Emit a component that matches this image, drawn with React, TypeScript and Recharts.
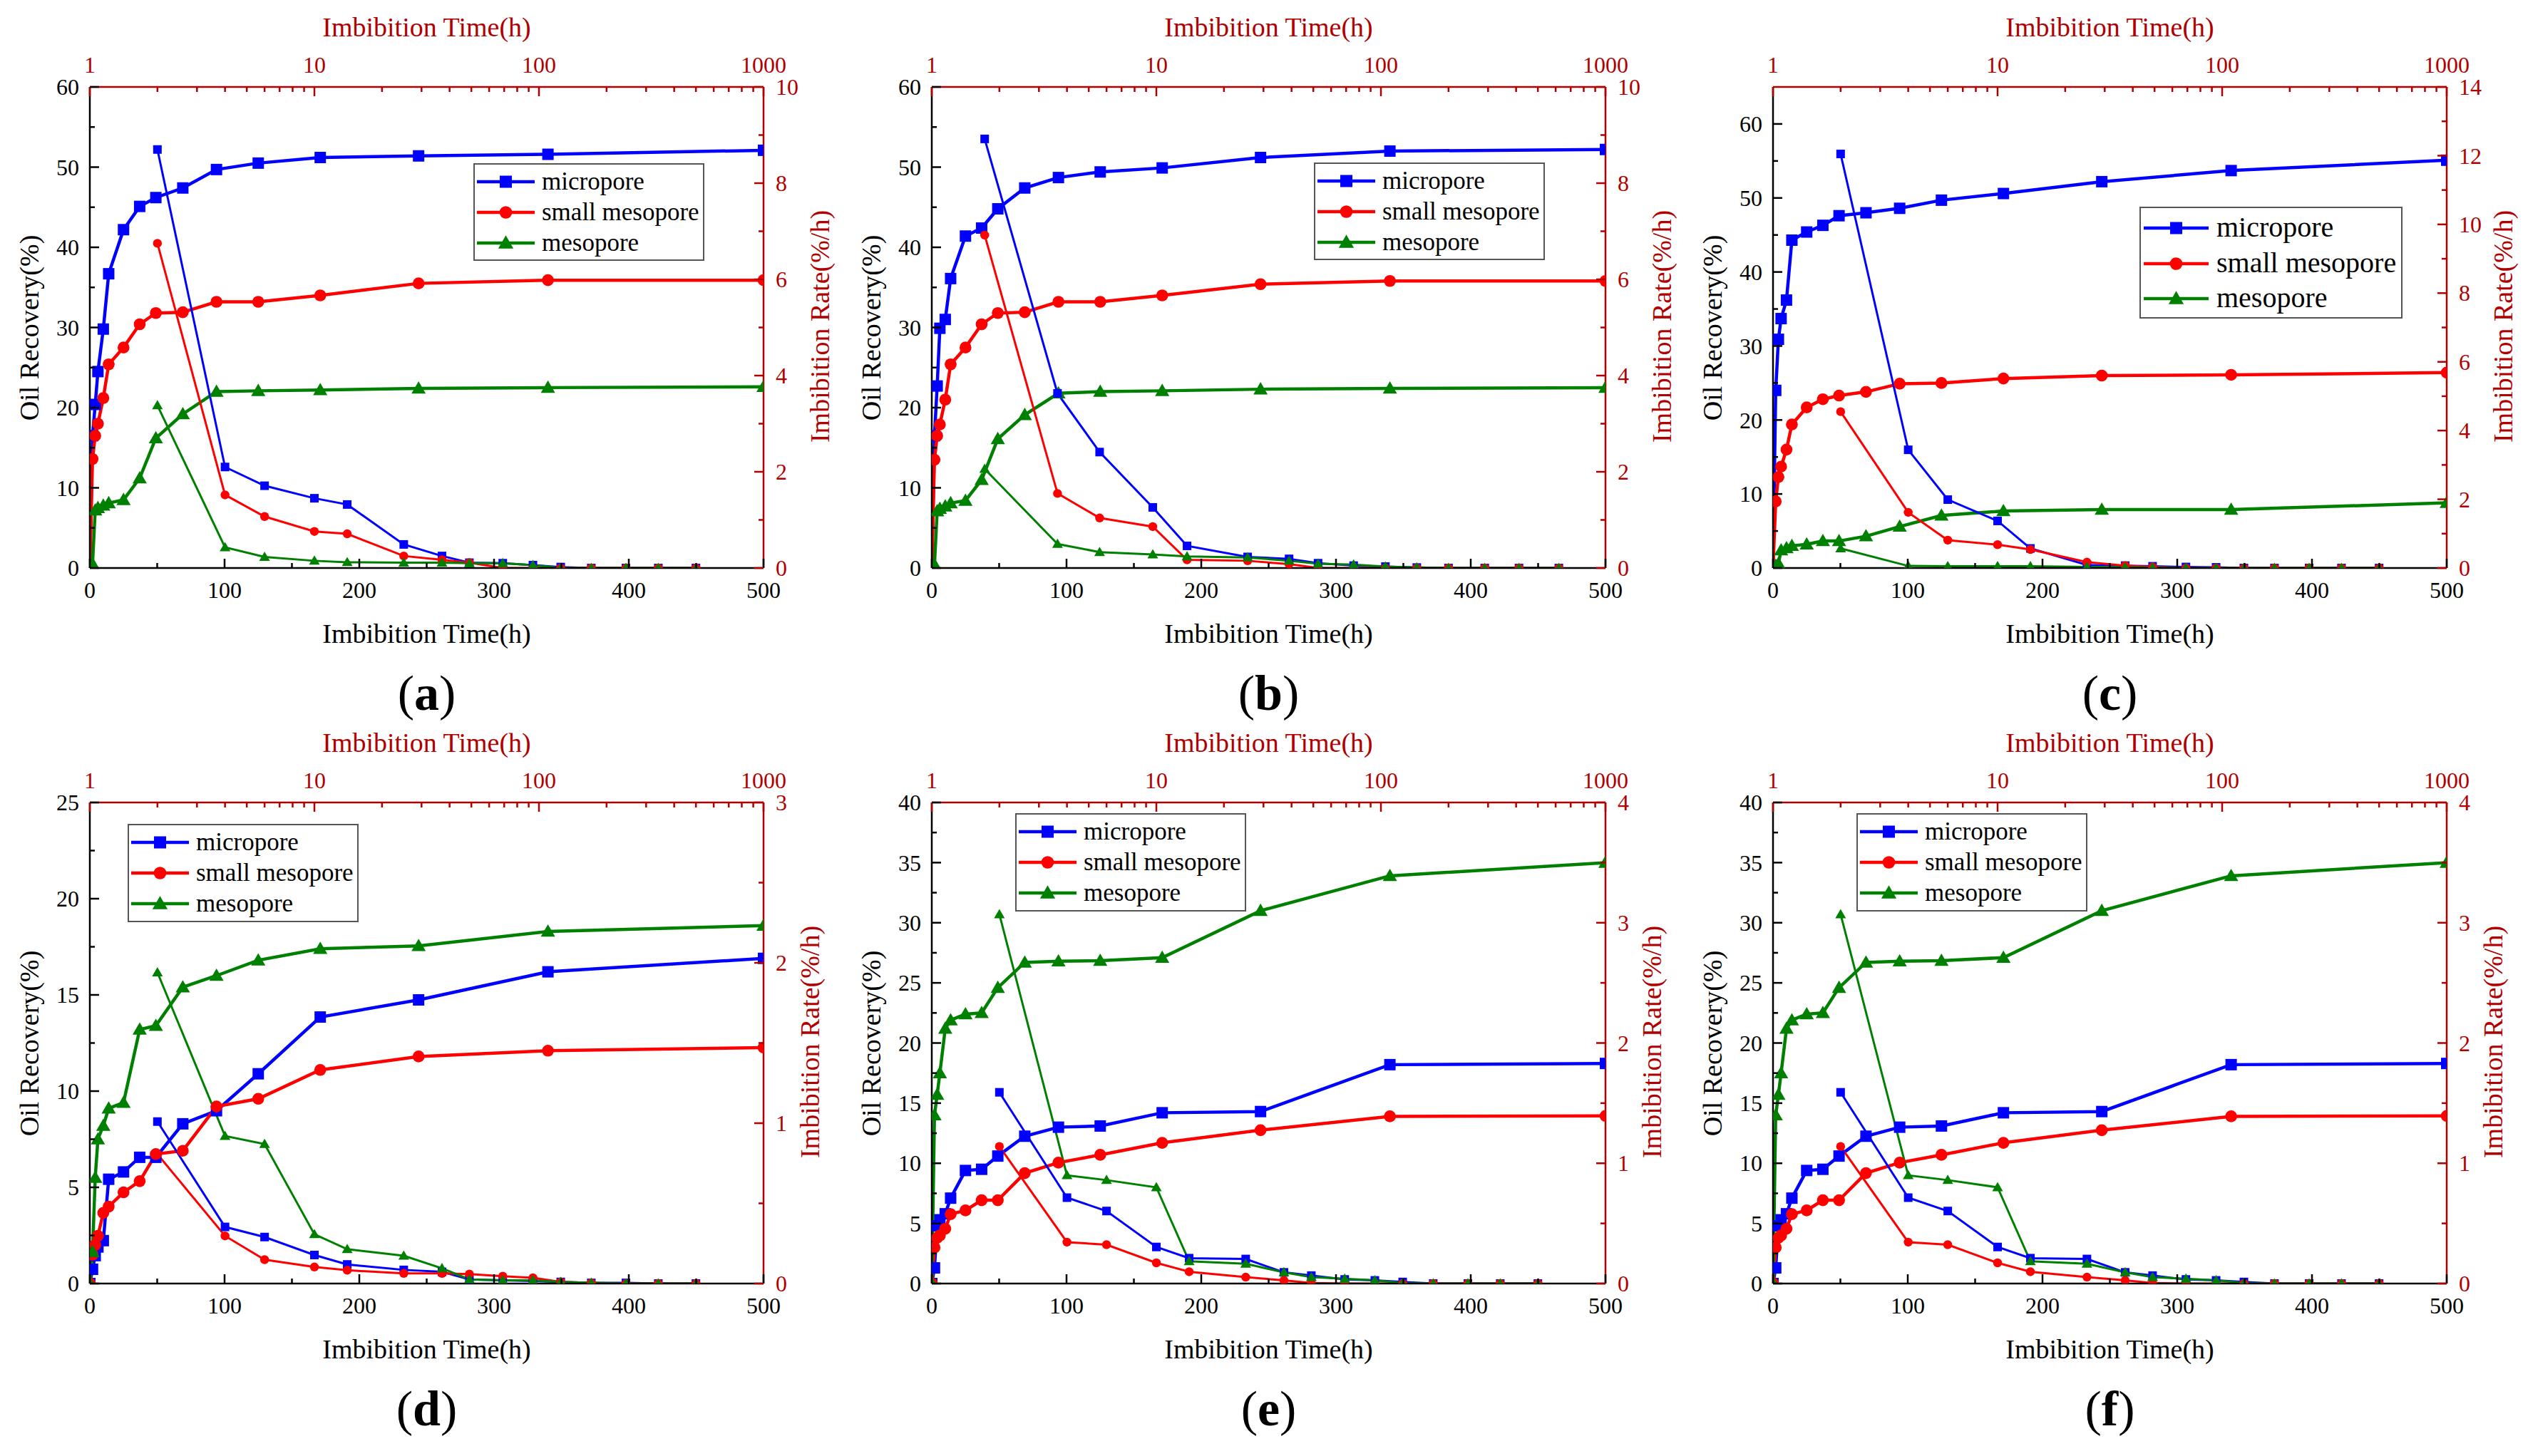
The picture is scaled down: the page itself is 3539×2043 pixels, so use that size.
import React from 'react';
import { LineChart, Line, XAxis, YAxis } from 'recharts';

// ---------------- data ----------------
// sampling times (h) of the oil-recovery curves (bottom, linear axis)
const REC_T = [0, 2, 4, 6, 10, 14, 25, 37, 49, 69, 94, 125, 171, 244, 340, 500];
// sampling times (h) of the imbibition-rate curves (top, log axis)
const RATE_T = [2, 4, 6, 10, 14, 25, 37, 49, 69, 94, 125, 171, 244, 340, 500];
const RATE_T_B = [1.72, 3.63, 5.59, 9.64, 13.7, 25.5, 39, 52.5, 75.6, 104.7, 144.5, 200, 290, 412, 620];

const SERIES = ['micropore', 'small mesopore', 'mesopore'];
const PANEL_LABELS = ['a', 'b', 'c', 'd', 'e', 'f'];

// (a)
const recMicroA = [0, 16.5, 20.4, 24.5, 29.8, 36.7, 42.2, 45.1, 46.2, 47.4, 49.7, 50.5, 51.2, 51.4, 51.6, 52.1];
const recSmallA = [0, 13.6, 16.5, 18.0, 21.2, 25.4, 27.5, 30.4, 31.8, 31.9, 33.2, 33.2, 34.0, 35.5, 35.9, 35.9];
const recMesoA = [0, 0.5, 7.2, 7.5, 7.8, 8.1, 8.5, 11.2, 16.2, 19.2, 22.0, 22.1, 22.2, 22.4, 22.5, 22.6];
const rateMicroA = [8.7, 2.1, 1.71, 1.45, 1.32, 0.49, 0.25, 0.11, 0.1, 0.06, 0.02, 0, 0, 0, 0];
const rateSmallA = [6.75, 1.52, 1.07, 0.76, 0.71, 0.25, 0.17, 0.11, 0, 0, 0, 0, 0, 0, 0];
const rateMesoA = [3.38, 0.43, 0.23, 0.15, 0.12, 0.11, 0.11, 0.1, 0.1, 0.06, 0, 0, 0, 0, 0];

// (b)
const recMicroB = [0, 16.5, 22.7, 29.9, 31.0, 36.1, 41.4, 42.4, 44.8, 47.4, 48.7, 49.4, 49.9, 51.2, 52.0, 52.2];
const recSmallB = [0, 13.5, 16.5, 17.9, 21.0, 25.4, 27.5, 30.4, 31.8, 31.9, 33.2, 33.2, 34.0, 35.4, 35.8, 35.8];
const recMesoB = [0, 0.4, 7.1, 7.4, 7.7, 8.1, 8.4, 11.0, 16.1, 19.1, 21.8, 22.0, 22.1, 22.3, 22.4, 22.5];
const rateMicroB = [8.92, 3.63, 2.41, 1.26, 0.46, 0.23, 0.19, 0.1, 0.05, 0.03, 0.01, 0, 0, 0, 0];
const rateSmallB = [6.92, 1.55, 1.04, 0.86, 0.17, 0.15, 0.08, 0, 0, 0, 0, 0, 0, 0, 0];
const rateMesoB = [2.06, 0.5, 0.33, 0.28, 0.24, 0.22, 0.15, 0.09, 0.07, 0.03, 0.01, 0, 0, 0, 0];

// (c)
const recMicroC = [0, 24.0, 30.9, 33.7, 36.2, 44.3, 45.4, 46.3, 47.6, 48.0, 48.6, 49.7, 50.6, 52.2, 53.7, 55.1];
const recSmallC = [0, 9.0, 12.3, 13.7, 16.0, 19.4, 21.7, 22.8, 23.3, 23.8, 24.9, 25.0, 25.6, 26.0, 26.1, 26.4];
const recMesoC = [0, 0.3, 0.6, 2.4, 2.7, 3.0, 3.2, 3.65, 3.65, 4.3, 5.6, 7.1, 7.7, 7.9, 7.9, 8.8];
const rateMicroC = [12.05, 3.44, 1.99, 1.37, 0.57, 0.09, 0.07, 0.05, 0.03, 0.02, 0, 0, 0, 0, 0];
const rateSmallC = [4.55, 1.62, 0.81, 0.68, 0.54, 0.17, 0.07, 0.03, 0, 0, 0, 0, 0, 0, 0];
const rateMesoC = [0.57, 0.06, 0.05, 0.05, 0.05, 0.03, 0.02, 0.01, 0, 0, 0, 0, 0, 0, 0];

// (d)
const recMicroD = [0, 0.74, 1.45, 1.9, 2.23, 5.42, 5.8, 6.56, 6.56, 8.3, 8.98, 10.9, 13.85, 14.74, 16.2, 16.9];
const recSmallD = [0, 1.5, 2.0, 2.48, 3.67, 4.0, 4.74, 5.32, 6.73, 6.9, 9.2, 9.6, 11.1, 11.8, 12.1, 12.26];
const recMesoD = [0, 1.65, 5.5, 7.5, 8.2, 9.1, 9.4, 13.2, 13.4, 15.4, 16.0, 16.8, 17.4, 17.55, 18.3, 18.6];
const rateMicroD = [1.01, 0.353, 0.29, 0.178, 0.119, 0.085, 0.073, 0.026, 0.02, 0.016, 0.01, 0.004, 0.004, 0, 0];
const rateSmallD = [0.807, 0.297, 0.149, 0.103, 0.083, 0.063, 0.063, 0.059, 0.046, 0.036, 0.01, 0.004, 0, 0, 0];
const rateMesoD = [1.94, 0.92, 0.87, 0.307, 0.214, 0.173, 0.095, 0.026, 0.02, 0.02, 0.01, 0.004, 0, 0, 0];

// (e) and (f)
const recMicroE = [0, 1.3, 4.8, 5.3, 5.8, 7.1, 9.4, 9.5, 10.6, 12.25, 13.0, 13.1, 14.2, 14.3, 18.2, 18.3];
const recSmallE = [0, 3.0, 3.8, 4.0, 4.55, 5.77, 6.08, 6.93, 6.93, 9.18, 10.05, 10.7, 11.7, 12.75, 13.9, 13.94];
const recMesoE = [0, 14.0, 15.7, 17.5, 21.2, 21.9, 22.4, 22.5, 24.6, 26.7, 26.8, 26.85, 27.1, 31.0, 33.9, 35.0];
const rateMicroE = [1.59, 0.714, 0.603, 0.304, 0.211, 0.204, 0.093, 0.066, 0.034, 0.026, 0.013, 0, 0, 0, 0];
const rateSmallE = [1.14, 0.344, 0.323, 0.172, 0.098, 0.053, 0.026, 0.005, 0, 0, 0, 0, 0, 0, 0];
const rateMesoE = [3.07, 0.9, 0.86, 0.8, 0.185, 0.164, 0.093, 0.053, 0.04, 0.026, 0.005, 0, 0, 0, 0];

// tick values
const BOTTOM_TICKS = [0, 50, 100, 150, 200, 250, 300, 350, 400, 450, 500];
const TOP_TICKS = [1, 2, 3, 4, 5, 6, 7, 8, 9, 10, 20, 30, 40, 50, 60, 70, 80, 90, 100, 200, 300, 400, 500, 600, 700, 800, 900, 1000];
const LEFT_TICKS_60 = [0, 5, 10, 15, 20, 25, 30, 35, 40, 45, 50, 55, 60];
const LEFT_TICKS_25 = [0, 2.5, 5, 7.5, 10, 12.5, 15, 17.5, 20, 22.5, 25];
const LEFT_TICKS_40 = [0, 2.5, 5, 7.5, 10, 12.5, 15, 17.5, 20, 22.5, 25, 27.5, 30, 32.5, 35, 37.5, 40];
const RIGHT_TICKS_10 = [0, 1, 2, 3, 4, 5, 6, 7, 8, 9, 10];
const RIGHT_TICKS_14 = [0, 1, 2, 3, 4, 5, 6, 7, 8, 9, 10, 11, 12, 13, 14];
const RIGHT_TICKS_3 = [0, 0.5, 1, 1.5, 2, 2.5, 3];
const RIGHT_TICKS_4 = [0, 0.5, 1, 1.5, 2, 2.5, 3, 3.5, 4];

// ---------------- styling ----------------
const FONT = '"Liberation Serif", "Times New Roman", Times, serif';
const AX_RED = '#B00000';
const BLUE = '#0000FF';
const RED = '#FF0000';
const GREEN = '#008000';
const COLORS = [BLUE, RED, GREEN];
const SHAPES = ['square', 'circle', 'triangle'];

const W = 1180;
const H = 1004;
const PLOT_L = 126;
const PLOT_T = 122;
const PLOT_W = 945;
const PLOT_H = 675;

const pts = (ts: number[], vs: number[]) => ts.map((t, i) => ({ t, v: vs[i] }));

function drawMarker(shape: string, cx: number, cy: number, size: number, color: string, key?: any) {
  if (shape === 'square') {
    return <rect key={key} x={cx - size / 2} y={cy - size / 2} width={size} height={size} fill={color} />;
  }
  if (shape === 'circle') {
    return <circle key={key} cx={cx} cy={cy} r={size * 0.52} fill={color} />;
  }
  const w = size * 1.25;
  const h = size * 1.08;
  return (
    <path
      key={key}
      d={`M${cx},${cy - h * 0.58} L${cx + w / 2},${cy + h * 0.42} L${cx - w / 2},${cy + h * 0.42} Z`}
      fill={color}
    />
  );
}

const makeDot = (shape: string, size: number, color: string) => (props: any) => {
  const { cx, cy, index } = props;
  if (cx == null || cy == null || isNaN(cx) || isNaN(cy)) return <g key={`n${index}`} />;
  return drawMarker(shape, cx, cy, size, color, `d${index}`);
};

function makeTick(side: string, margin: number, color: string, isMajor: (v: number) => boolean, fontSize: number) {
  return function Tick(props: any) {
    const { x, y, payload } = props;
    const v = payload.value;
    const major = isMajor(v);
    const len = major ? 13 : 7;
    let x1 = x, y1 = y, x2 = x, y2 = y;
    let anchor = 'middle';
    if (side === 'bottom') {
      const a = y - margin;
      y1 = a; y2 = a - len;
    } else if (side === 'top') {
      const a = y + margin;
      y1 = a; y2 = a + len;
    } else if (side === 'left') {
      const a = x + margin;
      x1 = a; x2 = a + len; anchor = 'end';
    } else {
      const a = x - margin;
      x1 = a; x2 = a - len; anchor = 'start';
    }
    return (
      <g>
        <line x1={x1} y1={y1} x2={x2} y2={y2} stroke={color} strokeWidth={2.5} />
        {major ? (
          <text x={x} y={y} dy="0.35em" textAnchor={anchor} fill={color} fontSize={fontSize} fontFamily={FONT}>
            {String(v)}
          </text>
        ) : null}
      </g>
    );
  };
}

const TICK_FS = 32;
const bottomTick = makeTick('bottom', 31, '#000', (v) => v % 100 === 0, TICK_FS);
const topTick = makeTick('top', 31, AX_RED, (v) => [1, 10, 100, 1000].includes(v), TICK_FS);

type PanelCfg = {
  label: string;
  left: number;
  top: number;
  rec: number[][];
  rateT: number[];
  rate: number[][];
  yL: number[];
  yLTicks: number[];
  yLMajor: number;
  yR: number[];
  yRTicks: number[];
  yRMajor: number;
  legend: { x: number; y: number; w: number; h: number; fs: number; rows: number[]; l0: number; l1: number; tx: number };
  rightTitleX: number;
};

const LEG_STD = { w: 324, h: 137, fs: 35, rows: [26, 69, 112], l0: 5, l1: 86, tx: 96 };

const PANELS: PanelCfg[] = [
  {
    label: PANEL_LABELS[0], left: 0, top: 0,
    rec: [recMicroA, recSmallA, recMesoA], rateT: RATE_T, rate: [rateMicroA, rateSmallA, rateMesoA],
    yL: [0, 60], yLTicks: LEFT_TICKS_60, yLMajor: 10, yR: [0, 10], yRTicks: RIGHT_TICKS_10, yRMajor: 2,
    legend: { x: 664, y: 229, ...LEG_STD }, rightTitleX: 1150,
  },
  {
    label: PANEL_LABELS[1], left: 1181, top: 0,
    rec: [recMicroB, recSmallB, recMesoB], rateT: RATE_T_B, rate: [rateMicroB, rateSmallB, rateMesoB],
    yL: [0, 60], yLTicks: LEFT_TICKS_60, yLMajor: 10, yR: [0, 10], yRTicks: RIGHT_TICKS_10, yRMajor: 2,
    legend: { x: 662, y: 228, ...LEG_STD }, rightTitleX: 1150,
  },
  {
    label: PANEL_LABELS[2], left: 2361, top: 0,
    rec: [recMicroC, recSmallC, recMesoC], rateT: RATE_T, rate: [rateMicroC, rateSmallC, rateMesoC],
    yL: [0, 65], yLTicks: LEFT_TICKS_60, yLMajor: 10, yR: [0, 14], yRTicks: RIGHT_TICKS_14, yRMajor: 2,
    legend: { x: 640, y: 290, w: 369, h: 157, fs: 40, rows: [30, 80, 129], l0: 6, l1: 97, tx: 108 }, rightTitleX: 1150,
  },
  {
    label: PANEL_LABELS[3], left: 0, top: 1004,
    rec: [recMicroD, recSmallD, recMesoD], rateT: RATE_T, rate: [rateMicroD, rateSmallD, rateMesoD],
    yL: [0, 25], yLTicks: LEFT_TICKS_25, yLMajor: 5, yR: [0, 3], yRTicks: RIGHT_TICKS_3, yRMajor: 1,
    legend: { x: 179, y: 152, ...LEG_STD, h: 138 }, rightTitleX: 1136,
  },
  {
    label: PANEL_LABELS[4], left: 1181, top: 1004,
    rec: [recMicroE, recSmallE, recMesoE], rateT: RATE_T, rate: [rateMicroE, rateSmallE, rateMesoE],
    yL: [0, 40], yLTicks: LEFT_TICKS_40, yLMajor: 5, yR: [0, 4], yRTicks: RIGHT_TICKS_4, yRMajor: 1,
    legend: { x: 243, y: 137, ...LEG_STD, h: 138 }, rightTitleX: 1136,
  },
  {
    label: PANEL_LABELS[5], left: 2361, top: 1004,
    rec: [recMicroE, recSmallE, recMesoE], rateT: RATE_T, rate: [rateMicroE, rateSmallE, rateMesoE],
    yL: [0, 40], yLTicks: LEFT_TICKS_40, yLMajor: 5, yR: [0, 4], yRTicks: RIGHT_TICKS_4, yRMajor: 1,
    legend: { x: 243, y: 137, ...LEG_STD, h: 138 }, rightTitleX: 1136,
  },
];

function LegendBox({ cfg }: { cfg: PanelCfg['legend'] }) {
  return (
    <div
      style={{
        position: 'absolute', left: cfg.x, top: cfg.y, width: cfg.w, height: cfg.h,
        border: '2px solid #555', boxSizing: 'border-box', background: '#fff',
      }}
    >
      <svg width={cfg.w} height={cfg.h} style={{ position: 'absolute', left: -2, top: -2 }}>
        {SERIES.map((name, i) => {
          const y = cfg.rows[i];
          const mx = (cfg.l0 + cfg.l1) / 2;
          return (
            <g key={name}>
              <line x1={cfg.l0} x2={cfg.l1} y1={y} y2={y} stroke={COLORS[i]} strokeWidth={4.5} />
              {drawMarker(SHAPES[i], mx, y, 17, COLORS[i])}
              <text x={cfg.tx} y={y} dy="0.3em" fontSize={cfg.fs} fontFamily={FONT} fill="#000">
                {name}
              </text>
            </g>
          );
        })}
      </svg>
    </div>
  );
}

const txt = (extra: React.CSSProperties): React.CSSProperties => ({
  position: 'absolute', whiteSpace: 'nowrap', lineHeight: 1, fontFamily: FONT, ...extra,
});

function Panel({ p }: { p: PanelCfg }) {
  const leftTick = makeTick('left', 15, '#000', (v) => v % p.yLMajor === 0, TICK_FS);
  const rightTick = makeTick('right', 17, AX_RED, (v) => v % p.yRMajor === 0, TICK_FS);
  const cx = PLOT_L + PLOT_W / 2;
  const cy = PLOT_T + PLOT_H / 2;
  return (
    <div style={{ position: 'absolute', left: p.left, top: p.top, width: W, height: H }}>
      <LineChart width={W} height={H} margin={{ top: 42, right: 9, bottom: 127, left: 26 }}>
        <XAxis
          xAxisId="b" orientation="bottom" type="number" dataKey="t" domain={[0, 500]}
          ticks={BOTTOM_TICKS} interval={0} height={80} tickSize={0} tickMargin={31}
          tickLine={false} tick={bottomTick} axisLine={{ stroke: '#000', strokeWidth: 2.5 }} allowDataOverflow
        />
        <XAxis
          xAxisId="t" orientation="top" type="number" dataKey="t" scale="log" domain={[1, 1000]}
          ticks={TOP_TICKS} interval={0} height={80} tickSize={0} tickMargin={31}
          tickLine={false} tick={topTick} axisLine={{ stroke: AX_RED, strokeWidth: 2.5 }} allowDataOverflow
        />
        <YAxis
          yAxisId="l" orientation="left" type="number" domain={p.yL} ticks={p.yLTicks} interval={0}
          width={100} tickSize={0} tickMargin={15} tickLine={false} tick={leftTick}
          axisLine={{ stroke: '#000', strokeWidth: 2.5 }} allowDataOverflow
        />
        <YAxis
          yAxisId="r" orientation="right" type="number" domain={p.yR} ticks={p.yRTicks} interval={0}
          width={100} tickSize={0} tickMargin={17} tickLine={false} tick={rightTick}
          axisLine={{ stroke: AX_RED, strokeWidth: 2.5 }} allowDataOverflow
        />
        {p.rec.map((vals, i) => (
          <Line
            key={`rec${i}`} xAxisId="b" yAxisId="l" data={pts(REC_T, vals)} dataKey="v" name={SERIES[i]}
            type="linear" stroke={COLORS[i]} strokeWidth={4.5} dot={makeDot(SHAPES[i], 16, COLORS[i])}
            activeDot={false} isAnimationActive={false}
          />
        ))}
        {p.rate.map((vals, i) => (
          <Line
            key={`rate${i}`} xAxisId="t" yAxisId="r" data={pts(p.rateT, vals)} dataKey="v" name={`${SERIES[i]} rate`}
            type="linear" stroke={COLORS[i]} strokeWidth={3} dot={makeDot(SHAPES[i], 12, COLORS[i])}
            activeDot={false} isAnimationActive={false}
          />
        ))}
      </LineChart>
      <LegendBox cfg={p.legend} />
      <div style={txt({ left: cx, top: 38, transform: 'translate(-50%,-50%)', fontSize: 38, color: AX_RED })}>
        Imbibition Time(h)
      </div>
      <div style={txt({ left: cx, top: 889, transform: 'translate(-50%,-50%)', fontSize: 38, color: '#000' })}>
        Imbibition Time(h)
      </div>
      <div style={txt({ left: 41, top: cy, transform: 'translate(-50%,-50%) rotate(-90deg)', fontSize: 38, color: '#000' })}>
        Oil Recovery(%)
      </div>
      <div style={txt({ left: p.rightTitleX, top: cy - 2, transform: 'translate(-50%,-50%) rotate(-90deg)', fontSize: 38, color: AX_RED })}>
        Imbibition Rate(%/h)
      </div>
      <div style={txt({ left: cx, top: 973, transform: 'translate(-50%,-50%)', fontSize: 70, color: '#000' })}>
        (<span style={{ fontWeight: 'bold' }}>{p.label}</span>)
      </div>
    </div>
  );
}

export default function App() {
  return (
    <div style={{ position: 'absolute', left: 0, top: 0, width: 3539, height: 2043, background: '#fff', overflow: 'hidden' }}>
      {PANELS.map((p) => (
        <Panel key={p.label} p={p} />
      ))}
    </div>
  );
}
